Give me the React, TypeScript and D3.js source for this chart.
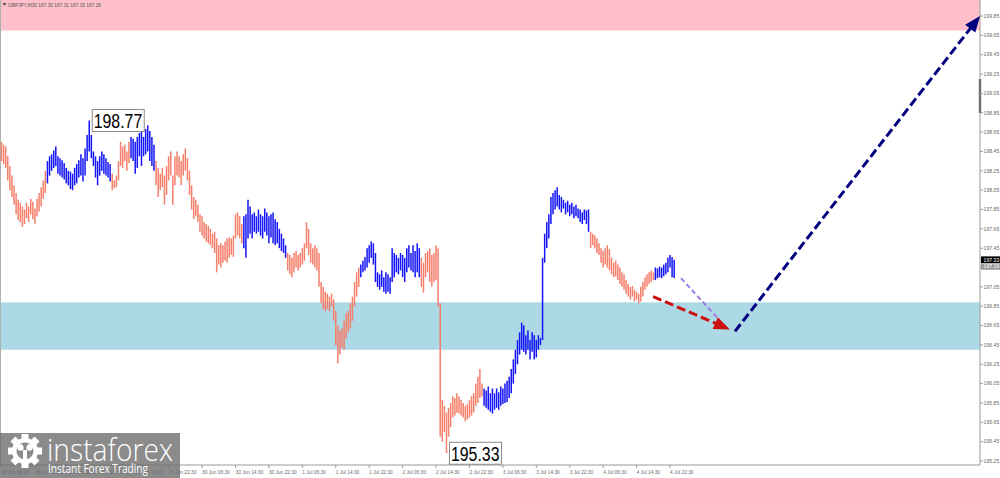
import * as d3 from 'd3';

// GBPJPY M30 bars: 26 Jun 06:30 ... 4 Jul (one value per bar)
const highs = [
  198.55, 198.52, 198.50, 198.40, 198.30, 198.20, 198.10, 198.02, 197.95, 197.92,
  197.88, 197.85, 197.92, 197.88, 197.96, 197.93, 197.86, 197.96, 198.02, 198.08,
  198.15, 198.25, 198.35, 198.40, 198.42, 198.46, 198.50, 198.40, 198.38, 198.36,
  198.33, 198.28, 198.25, 198.24, 198.22, 198.28, 198.32, 198.36, 198.42, 198.38,
  198.48, 198.62, 198.77, 198.62, 198.45, 198.40, 198.35, 198.40, 198.45, 198.42,
  198.38, 198.34, 198.32, 198.22, 198.15, 198.20, 198.35, 198.55, 198.50, 198.52,
  198.45, 198.55, 198.60, 198.58, 198.55, 198.60, 198.64, 198.66, 198.60, 198.68,
  198.72, 198.66, 198.60, 198.52, 198.35, 198.28, 198.22, 198.28, 198.20, 198.30,
  198.40, 198.45, 198.20, 198.40, 198.45, 198.40, 198.35, 198.42, 198.48, 198.38,
  198.25, 198.10, 197.98, 197.95, 197.90, 197.80, 197.78, 197.72, 197.70, 197.68,
  197.65, 197.60, 197.62, 197.55, 197.48, 197.50, 197.48, 197.52, 197.55, 197.56,
  197.55, 197.58, 197.80, 197.82, 197.78, 197.70, 197.78, 197.80, 197.95, 197.88,
  197.80, 197.82, 197.78, 197.85, 197.80, 197.78, 197.86, 197.82, 197.78, 197.80,
  197.82, 197.75, 197.72, 197.65, 197.60, 197.55, 197.48, 197.40, 197.38, 197.35,
  197.40, 197.42, 197.38, 197.40, 197.45, 197.50, 197.72, 197.65, 197.50, 197.45,
  197.48, 197.45, 197.40, 197.10, 197.05, 197.00, 196.98, 196.95, 196.98, 196.92,
  196.80, 196.65, 196.60, 196.62, 196.70, 196.78, 196.80, 196.88, 196.95, 197.10,
  197.20, 197.25, 197.28, 197.32, 197.36, 197.45, 197.48, 197.52, 197.50, 197.40,
  197.20, 197.18, 197.22, 197.15, 197.20, 197.18, 197.15, 197.45, 197.40, 197.38,
  197.35, 197.40, 197.38, 197.35, 197.45, 197.48, 197.40, 197.48, 197.42, 197.50,
  197.45, 197.35, 197.30, 197.40, 197.42, 197.45, 197.38, 197.40, 197.48, 197.45,
  196.88, 195.88, 195.82, 195.75, 195.80, 195.85, 195.92, 195.90, 195.95, 195.92,
  195.88, 195.85, 195.82, 195.84, 195.88, 195.92, 195.95, 196.05, 196.12, 196.20,
  196.05, 196.00, 195.98, 196.02, 195.95, 196.00, 195.95, 196.00, 195.96, 196.02,
  196.00, 196.05, 196.08, 196.12, 196.20, 196.30, 196.40, 196.50, 196.58, 196.68,
  196.65, 196.55, 196.60, 196.50, 196.58, 196.55, 196.50, 196.55, 196.52, 197.35,
  197.60, 197.72, 197.80, 197.98, 198.02, 198.05, 198.08, 198.00, 197.98, 197.95,
  197.92, 197.94, 197.90, 197.92, 197.88, 197.90, 197.86, 197.85, 197.82, 197.85,
  197.84, 197.85, 197.62, 197.60, 197.58, 197.55, 197.50, 197.45, 197.42, 197.45,
  197.48, 197.44, 197.35, 197.30, 197.32, 197.28, 197.25, 197.20, 197.18, 197.12,
  197.08, 197.05, 197.06, 197.02, 197.00, 196.98, 197.05, 197.10, 197.15, 197.18,
  197.20, 197.22, 197.20, 197.25, 197.24, 197.26, 197.25, 197.28, 197.30, 197.35,
  197.38, 197.36, 197.33,
];

const lows = [
  198.35, 198.32, 198.28, 198.15, 198.05, 197.98, 197.90, 197.80, 197.74, 197.72,
  197.67, 197.70, 197.76, 197.72, 197.80, 197.75, 197.70, 197.78, 197.83, 197.88,
  197.96, 198.02, 198.12, 198.20, 198.25, 198.28, 198.30, 198.22, 198.20, 198.18,
  198.16, 198.12, 198.10, 198.06, 198.05, 198.10, 198.12, 198.18, 198.20, 198.14,
  198.20, 198.35, 198.45, 198.38, 198.30, 198.18, 198.10, 198.20, 198.25, 198.22,
  198.20, 198.18, 198.14, 198.05, 198.07, 198.08, 198.15, 198.30, 198.28, 198.35,
  198.25, 198.33, 198.38, 198.35, 198.22, 198.28, 198.40, 198.30, 198.40, 198.42,
  198.45, 198.35, 198.30, 198.25, 198.10, 197.98, 198.05, 198.08, 197.90, 198.00,
  198.15, 198.20, 197.90, 198.10, 198.20, 198.18, 198.10, 198.20, 198.25, 198.15,
  198.00, 197.85, 197.75, 197.78, 197.72, 197.62, 197.58, 197.55, 197.52, 197.50,
  197.48, 197.45, 197.40, 197.20, 197.28, 197.25, 197.30, 197.32, 197.30, 197.35,
  197.38, 197.36, 197.55, 197.58, 197.55, 197.50, 197.45, 197.35, 197.55, 197.60,
  197.55, 197.62, 197.60, 197.62, 197.58, 197.55, 197.62, 197.58, 197.50, 197.56,
  197.50, 197.48, 197.50, 197.45, 197.42, 197.40, 197.35, 197.22, 197.18, 197.15,
  197.20, 197.25, 197.22, 197.25, 197.28, 197.32, 197.45, 197.38, 197.30, 197.28,
  197.25, 197.22, 197.05, 196.88, 196.82, 196.80, 196.82, 196.80, 196.85, 196.70,
  196.45, 196.26, 196.35, 196.42, 196.40, 196.52, 196.58, 196.62, 196.70, 196.85,
  196.95, 197.05, 197.15, 197.20, 197.22, 197.25, 197.30, 197.35, 197.28, 197.10,
  197.05, 197.02, 197.05, 197.00, 196.98, 197.00, 196.98, 197.10, 197.15, 197.20,
  197.18, 197.22, 197.15, 197.10, 197.20, 197.25, 197.22, 197.20, 197.15, 197.20,
  197.15, 197.05, 196.99, 197.15, 197.20, 197.10, 197.05, 197.10, 197.12, 196.85,
  195.50, 195.45, 195.55, 195.33, 195.50, 195.60, 195.70, 195.72, 195.75, 195.74,
  195.72, 195.70, 195.66, 195.68, 195.70, 195.72, 195.75, 195.82, 195.85, 195.90,
  195.92, 195.82, 195.80, 195.78, 195.76, 195.74, 195.78, 195.80, 195.78, 195.82,
  195.84, 195.85, 195.86, 195.90, 195.95, 196.05, 196.15, 196.25, 196.35, 196.40,
  196.38, 196.35, 196.40, 196.30, 196.38, 196.30, 196.32, 196.40, 196.45, 196.50,
  197.30, 197.45, 197.55, 197.70, 197.80, 197.85, 197.88, 197.85, 197.82, 197.86,
  197.80, 197.82, 197.78, 197.80, 197.76, 197.78, 197.76, 197.72, 197.70, 197.74,
  197.70, 197.62, 197.45, 197.48, 197.45, 197.40, 197.38, 197.30, 197.25, 197.28,
  197.25, 197.22, 197.18, 197.15, 197.16, 197.12, 197.08, 197.05, 197.02, 196.98,
  196.95, 196.92, 196.95, 196.90, 196.92, 196.88, 196.90, 196.95, 197.02, 197.05,
  197.08, 197.10, 197.12, 197.12, 197.14, 197.15, 197.14, 197.16, 197.18, 197.20,
  197.25, 197.15, 197.14,
];

// wave segments: last bar index of each wave and its colour
const waveEnds = [21, 52, 61, 73, 115, 136, 171, 200, 230, 281, 312, 322];
const waveColors = ['#f47f6b', '#1414f5', '#f47f6b', '#1414f5', '#f47f6b', '#1414f5',
  '#f47f6b', '#1414f5', '#f47f6b', '#1414f5', '#f47f6b', '#1414f5'];

const priceTicks = [199.85, 199.65, 199.45, 199.25, 199.05, 198.85, 198.65, 198.45, 198.25,
  198.05, 197.85, 197.65, 197.45, 197.25, 197.05, 196.85, 196.65, 196.45, 196.25, 196.05,
  195.85, 195.65, 195.45, 195.25];

const timeLabels = ['26 Jun 06:30', '26 Jun 14:30', '26 Jun 22:30', '27 Jun 06:30', '27 Jun 14:30',
  '27 Jun 22:30', '30 Jun 06:30', '30 Jun 14:30', '30 Jun 22:30', '1 Jul 06:30', '1 Jul 14:30',
  '1 Jul 22:30', '2 Jul 06:30', '2 Jul 14:30', '2 Jul 22:30', '3 Jul 06:30', '3 Jul 14:30',
  '3 Jul 22:30', '4 Jul 06:30', '4 Jul 14:30', '4 Jul 22:30'];
const barsPerLabel = 16;

const sellZone = [199.70, 200.30];
const buyZone = [196.40, 196.89];

const extremeBars = [42, 213];
const extremePrices = [198.77, 195.33];

// forecast arrows: [bar index, price] from -> to
const arrowNames = ['purple', 'red', 'navy'];
const arrowFrom = [[325.3, 197.14], [311.9, 196.95], [351.1, 196.59]];
const arrowTo = [[343.5, 196.71], [348.7, 196.61], [468.4, 199.85]];
const arrowColors = ['#9a7ee0', '#cc1010', '#00007f'];

const lastPrice = 197.33;
const bidPrice = 197.26;
const header = 'GBPJPY,M30  197.30 197.31 197.15 197.26';

const W = 1000;
const H = 478;
const axisX = 980;
const axisY = 465;
const FONT = '"Liberation Sans", Arial, sans-serif';

export default function App() {
  const x = d3.scaleLinear().domain([0, 320]).range([1.5, 670]);
  const y = d3.scaleLinear().domain([195.25, 199.85]).range([461, 16]);

  const colorOf = (i: number) => {
    const k = waveEnds.findIndex(e => i <= e);
    return waveColors[k < 0 ? waveColors.length - 1 : k];
  };

  const arrowHead = (x1: number, y1: number, x2: number, y2: number, len: number, wid: number) => {
    const dx = x2 - x1, dy = y2 - y1;
    const d = Math.hypot(dx, dy);
    const ux = dx / d, uy = dy / d;
    const bx = x2 - ux * len, by = y2 - uy * len;
    return `${x2},${y2} ${bx - uy * wid / 2},${by + ux * wid / 2} ${bx + uy * wid / 2},${by - ux * wid / 2}`;
  };

  const gearTeeth = d3.range(8).map(k => k * 45);

  return (
    <svg width={W} height={H} style={{ position: 'absolute', left: 0, top: 0, background: '#fff' }}
      fontFamily={FONT}>
      {/* zones */}
      <rect x={0} y={y(sellZone[1])} width={axisX} height={y(sellZone[0]) - y(sellZone[1])} fill="#ffc0cb" />
      <rect x={0} y={y(buyZone[1])} width={axisX} height={y(buyZone[0]) - y(buyZone[1])} fill="#add8e6" />

      {/* frame */}
      <line x1={0.5} x2={0.5} y1={0} y2={axisY} stroke="#b0b0b0" />
      <line x1={axisX} x2={axisX} y1={0} y2={axisY} stroke="#9a9a9a" />
      <line x1={0} x2={axisX} y1={axisY} y2={axisY} stroke="#9a9a9a" />
      <rect x={axisX - 1.2} y={79} width={2.4} height={34} fill="#707070" />

      {/* header */}
      <path d="M2.5,3 L6.5,3 L4.5,6 Z" fill="#555" />
      <text x={8} y={6.6} fontSize={4.8} fill="#555">{header}</text>

      {/* bars */}
      {highs.map((h, i) => (
        <line key={i} x1={x(i)} x2={x(i)} y1={y(h)} y2={y(lows[i])}
          stroke={colorOf(i)} strokeWidth={1.5} />
      ))}

      {/* extreme labels */}
      {extremeBars.map((b, k) => (
        <g key={k}>
          <rect x={x(b) + 3} y={y(extremePrices[k]) - 11} width={52} height={22}
            fill="#fff" stroke="#8a8a8a" strokeWidth={1} />
          <text x={x(b) + 4.5} y={y(extremePrices[k]) + 8} fontSize={20.5} fill="#000"
            textLength={48.5} lengthAdjust="spacingAndGlyphs">
            {extremePrices[k].toFixed(2)}
          </text>
        </g>
      ))}

      {/* forecast arrows */}
      {arrowNames.map((n, k) => {
        const x1 = x(arrowFrom[k][0]), y1 = y(arrowFrom[k][1]);
        const x2 = x(arrowTo[k][0]), y2 = y(arrowTo[k][1]);
        const isPurple = n === 'purple';
        const len = isPurple ? 0 : 16;
        const d = Math.hypot(x2 - x1, y2 - y1);
        const ex = x2 - (x2 - x1) / d * len * 0.8;
        const ey = y2 - (y2 - y1) / d * len * 0.8;
        return (
          <g key={n}>
            <line x1={x1} y1={y1} x2={ex} y2={ey} stroke={arrowColors[k]}
              strokeWidth={isPurple ? 2 : 3} strokeDasharray={isPurple ? '5,3' : '9,4'} />
            {!isPurple && (
              <polygon points={arrowHead(x1, y1, x2, y2, 16, 13)} fill={arrowColors[k]} />
            )}
          </g>
        );
      })}

      {/* right price axis */}
      {priceTicks.map(p => (
        <g key={p}>
          <line x1={axisX} x2={axisX + 3} y1={y(p)} y2={y(p)} stroke="#9a9a9a" />
          <text x={axisX + 3.5} y={y(p) + 1.8} fontSize={5.2} fill="#6a6a6a">{p.toFixed(2)}</text>
        </g>
      ))}
      <rect x={axisX + 1} y={y(lastPrice) - 3.4} width={W - axisX - 1} height={6.8} fill="#000" />
      <text x={axisX + 3.5} y={y(lastPrice) + 1.8} fontSize={5.2} fill="#fff">{lastPrice.toFixed(2)}</text>
      <rect x={axisX + 1} y={y(bidPrice) - 3} width={W - axisX - 1} height={6.2} fill="#9a9a9a" />
      <text x={axisX + 3.5} y={y(bidPrice) + 1.8} fontSize={5.2} fill="#fff">{bidPrice.toFixed(2)}</text>

      {/* bottom time axis */}
      {timeLabels.map((t, k) => (
        <g key={t}>
          <line x1={x(k * barsPerLabel)} x2={x(k * barsPerLabel)} y1={axisY} y2={axisY + 3} stroke="#9a9a9a" />
          <text x={x(k * barsPerLabel)} y={axisY + 8.5} fontSize={4.8} fill="#6a6a6a">{t}</text>
        </g>
      ))}

      {/* logo */}
      <g>
        <rect x={0} y={433} width={180} height={H - 433} fill="#6e6e6e" opacity={0.8} />
        <g transform="translate(25,451)">
          {gearTeeth.map(a => (
            <rect key={a} x={-3.5} y={-17} width={7} height={7} fill="#fff" transform={`rotate(${a})`} />
          ))}
          <circle r={13} fill="#fff" />
          <circle r={8.5} fill="#8b8b8b" />
          <circle cx={-4.5} cy={-3.5} r={3.2} fill="#fff" />
          <circle cx={4.5} cy={-3.5} r={3.2} fill="#fff" />
          <rect x={-2} y={-1} width={4} height={13} fill="#fff" />
          <circle cx={0} cy={-6} r={2.2} fill="#8b8b8b" />
        </g>
        <text x={47} y={461} fontSize={31} fill="#fff" fontFamily="'Open Sans', sans-serif"
          fontWeight={300} textLength={126} lengthAdjust="spacingAndGlyphs">instaforex</text>
        <text x={48} y={473} fontSize={12} fill="#fff" fontFamily="'Open Sans', sans-serif"
          textLength={100} lengthAdjust="spacingAndGlyphs">Instant Forex Trading</text>
      </g>
    </svg>
  );
}
